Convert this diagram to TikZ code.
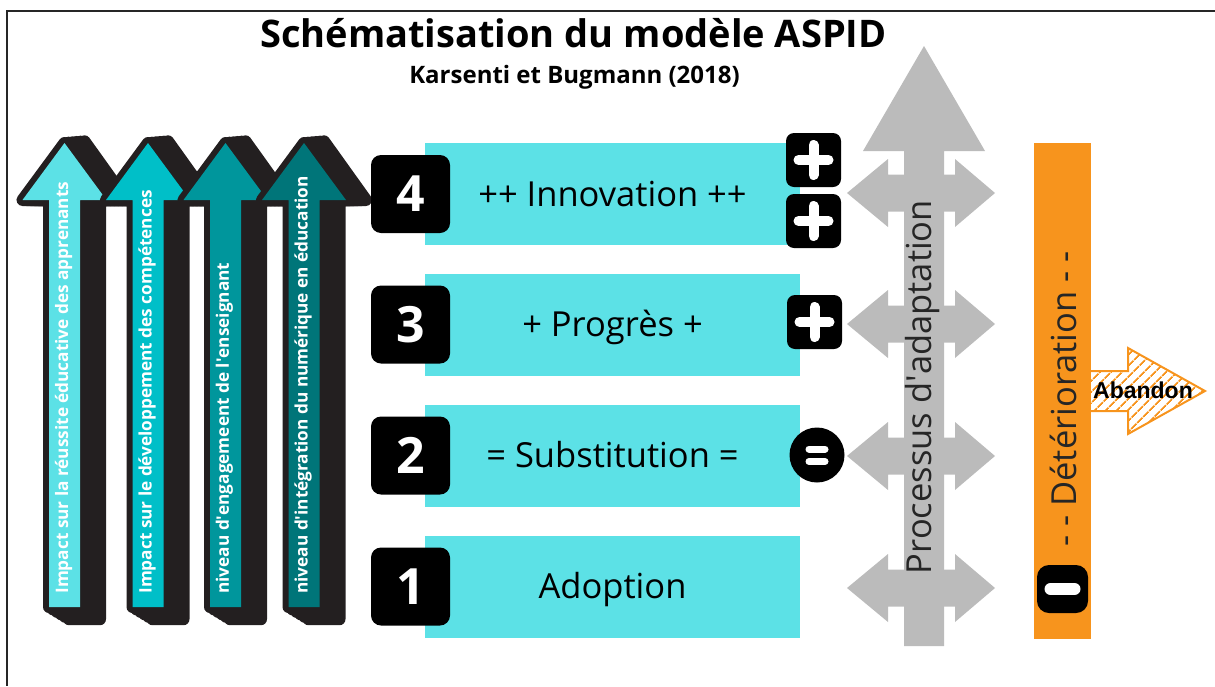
\documentclass[tikz,border=0pt]{standalone}
\usepackage{fontspec}
\setmainfont{Open Sans}
\newfontfamily\abandonfont{Liberation Sans}
\usetikzlibrary{patterns.meta}

\definecolor{cyanlight}{HTML}{5CE1E6}
\definecolor{cyanmid}{HTML}{00BFC8}
\definecolor{tealmid}{HTML}{00969C}
\definecolor{tealdark}{HTML}{007579}
\definecolor{liftshadow}{HTML}{231F20}
\definecolor{adaptgray}{HTML}{BBBBBB}
\definecolor{deterorange}{HTML}{F7941D}

% outline of one upward arrow, centred on x = #1 (pixel units)
\newcommand\liftarrow[1]{(#1-15.5,607) -- (#1-15.5,200) -- (#1-42,200) -- (#1,143)
  -- (#1+42,200) -- (#1+15.5,200) -- (#1+15.5,607) -- cycle}

\begin{document}
\begin{tikzpicture}[x=0.5pt, y=-0.5pt,
    levelbox/.style={fill=cyanlight, minimum width=187.5pt, minimum height=51pt, inner sep=0pt, text height=12.3pt, text depth=0pt, font=\fontsize{17.25}{20}\selectfont},
    numbox/.style={fill=black, rounded corners=5pt, minimum width=39.5pt, minimum height=39pt, inner sep=0pt, text height=17.9pt, text depth=0pt, text=white, font=\fontsize{25}{28}\selectfont\bfseries},
    signbox/.style={fill=black, rounded corners=4pt, minimum width=27.5pt, minimum height=27pt, inner sep=0pt},
    signbar/.style={white, line width=5pt, line cap=round},
    lifttext/.style={rotate=90, anchor=west, text=white, inner sep=0pt, font=\fontsize{8.6}{10}\selectfont\bfseries},
    adapt/.style={fill=adaptgray},
    bigtext/.style={rotate=90, inner sep=0pt, font=\fontsize{17.25}{20}\selectfont}]
    \useasboundingbox (0,0) rectangle (1215,686);

    % frame
    \draw[line width=1pt, black!85] (1215,11) -- (7,11) -- (7,686);

    % title
    \node (title) at (573.5,33) {\fontsize{19}{22}\selectfont\bfseries Schématisation du modèle ASPID};
    \node (subtitle) at (574.5,77) {\fontsize{12}{14}\selectfont\bfseries Karsenti et Bugmann (2018)};

    % impact arrows
    \foreach \c/\col/\txt [count=\i] in {64.5/cyanlight/{Impact sur la réussite éducative des apprenants},
        148/cyanmid/{Impact sur le développement des compétences},
        225.5/tealmid/{niveau d\textquotesingle engagemeent de l\textquotesingle enseignant},
        304/tealdark/{niveau d\textquotesingle intégration du numérique en éducation}}
    {
        \foreach \k [evaluate=\k as \sy using 1+0.03*\k] in {0,0.2,...,1}
            \filldraw[liftshadow, line width=6pt, line join=round, shift={(20*\k,-6*\k)}, yscale=\sy] \liftarrow{\c};
        \fill[\col] \liftarrow{\c};
        \node[lifttext] (lift\i) at (\c-1,594) {\txt};
    }

    % levels
    \foreach \y/\n/\txt in {194/4/{++ Innovation ++}, 324.5/3/{+ Progrès +}, 455.5/2/{= Substitution =}, 586.5/1/Adoption}
    {
        \node[levelbox] (level\n) at (612.5,\y) {\txt};
        \node[numbox] (num\n) at (410.5,\y) {\n};
    }

    % adaptation arrow
    \fill[adapt] (904,646) -- (904,151) -- (863,151) -- (924,46) -- (985,151) -- (944,151) -- (944,646) -- cycle;
    \foreach \y in {193,324,456,588}
        \fill[adapt] (847,\y) -- (888,\y-34) -- (888,\y-18.5) -- (955,\y-18.5) -- (955,\y-34) -- (995,\y)
            -- (955,\y+34) -- (955,\y+18.5) -- (888,\y+18.5) -- (888,\y+34) -- cycle;
    \node[bigtext, text=black!85] (adapttext) at (923,387) {Processus d\textquotesingle adaptation};

    % signs
    \node[signbox] (plusA) at (813.5,160) {};
    \node[signbox] (plusB) at (813.5,221) {};
    \node[signbox] (plusC) at (814.5,322) {};
    \foreach \p in {plusA,plusB,plusC}
        \draw[signbar] (\p.center) +(-15,0) -- +(15,0) +(0,-15) -- +(0,15);
    \node[circle, fill=black, minimum size=27.5pt, inner sep=0pt] (equal) at (817,455) {};
    \draw[signbar, line width=3.5pt] (equal.center) +(-8,-6) -- +(8,-6) +(-8,6.5) -- +(8,6.5);

    % abandon
    \draw[deterorange, line width=1pt, pattern={Lines[angle=45,distance=4pt,line width=1pt]}, pattern color=deterorange]
        (1085,371) -- (1128,371) -- (1128,348) -- (1205,391) -- (1128,434) -- (1128,411) -- (1085,411) -- cycle;
    \node (abandon) at (1143,390) {\abandonfont\fontsize{11.5}{13}\selectfont\bfseries Abandon};

    % deterioration
    \node[fill=deterorange, minimum width=28.5pt, minimum height=248pt, inner sep=0pt] (deter) at (1062.5,391) {};
    \node[bigtext, text=black!85] (detertext) at (1063,399) {- - Détérioration - -};
    \node[signbox, minimum width=25.5pt, minimum height=24pt, rounded corners=6pt] (minus) at (1062.5,589) {};
    \draw[signbar, line width=6pt] (minus.center) +(-12,0) -- +(12,0);
\end{tikzpicture}
\end{document}
